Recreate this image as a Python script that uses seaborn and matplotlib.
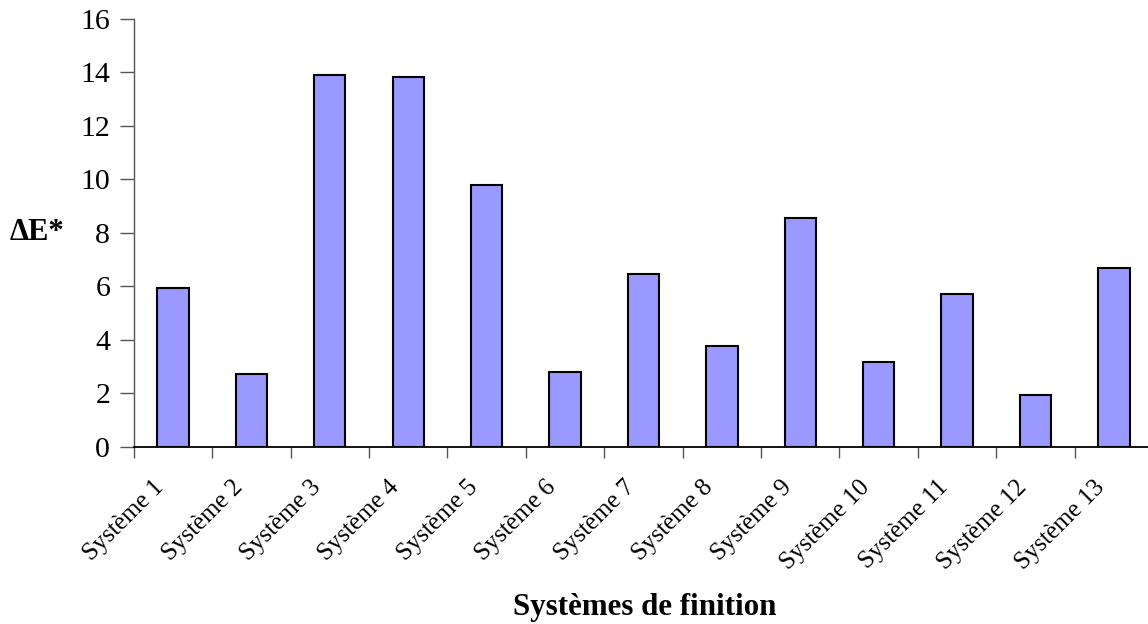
import matplotlib
matplotlib.use("Agg")
import matplotlib.pyplot as plt
import matplotlib.transforms as mtransforms
import seaborn as sns
import pandas as pd
import numpy as np

categories = ["Système 1", "Système 2", "Système 3", "Système 4", "Système 5",
              "Système 6", "Système 7", "Système 8", "Système 9", "Système 10",
              "Système 11", "Système 12", "Système 13"]
delta_e = [5.95, 2.72, 13.9, 13.83, 9.8, 2.8, 6.45, 3.75, 8.57, 3.17, 5.72, 1.95, 6.67]
y_ticks = [0, 2, 4, 6, 8, 10, 12, 14, 16]

sns.set_style("white")
plt.rcParams['font.family'] = ['Liberation Serif', 'DejaVu Serif']
plt.rcParams['text.color'] = 'black'
plt.rcParams['axes.labelcolor'] = 'black'

df = pd.DataFrame({"Système": categories, "dE": delta_e})

fig = plt.figure(figsize=(11.48, 6.24), dpi=100)
ax = fig.add_axes([0.1165, 0.2841, 0.888, 0.6855])

sns.barplot(data=df, x="Système", y="dE", color="#9999FF", width=0.4,
            edgecolor="black", linewidth=1.5, saturation=1, ax=ax)

ax.set_xlim(-0.5, len(categories) - 0.5)
ax.set_ylim(0, 16)
ax.set_yticks(y_ticks)
ax.set_yticklabels([str(t) for t in y_ticks], fontsize=21.5)

ax.set_xticks(np.arange(len(categories)))
ax.set_xticklabels(categories, fontsize=18, rotation=45, ha="right",
                   rotation_mode="anchor")
ax.set_xticks(np.arange(len(categories) + 1) - 0.5, minor=True)
ax.tick_params(axis="x", which="major", length=0, pad=21, labelcolor="black")
ax.tick_params(axis="x", which="minor", length=8, width=1, color="#555555", direction="out", bottom=True)
ax.tick_params(axis="y", which="major", length=10, width=1, color="#555555", direction="out", left=True, pad=7, labelcolor="black")

offset = mtransforms.ScaledTranslation(-0.20, 0, fig.dpi_scale_trans)
for lbl in ax.get_xticklabels():
    lbl.set_transform(lbl.get_transform() + offset)

for s in ["top", "right"]:
    ax.spines[s].set_visible(False)
ax.spines["left"].set_color("#555555")
ax.spines["left"].set_linewidth(1)
ax.spines["bottom"].set_color("black")
ax.spines["bottom"].set_linewidth(1.3)

ax.set_xlabel("Systèmes de finition", fontsize=22.3, fontweight="bold", color="black")
ax.xaxis.set_label_coords(0.501, -0.377)
ax.xaxis.label.set_va("center")
ax.set_ylabel("ΔE*", fontsize=22, fontweight="bold", rotation=0, color="black")
ax.yaxis.set_label_coords(-0.0953, 0.5)
ax.yaxis.label.set_ha("center")
ax.yaxis.label.set_va("center")

fig.savefig("out.png", dpi=100)
